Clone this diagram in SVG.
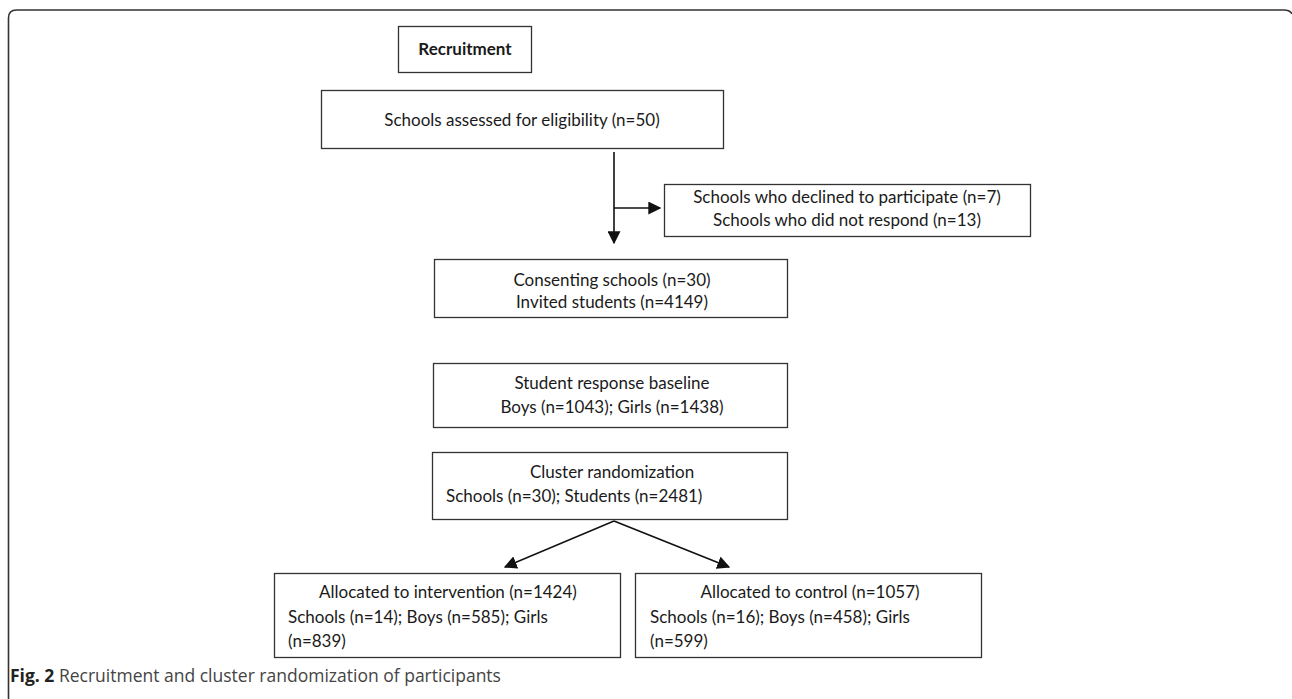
<svg xmlns="http://www.w3.org/2000/svg" width="1292" height="699" viewBox="0 0 1292 699">
<style>
.box{fill:#fff;stroke:#333;stroke-width:1.3}
.t{font-family:Lato,"Open Sans",sans-serif;font-size:17px;fill:#1a1a1a}
.c{text-anchor:middle}
.ln{stroke:#111;stroke-width:1.6;fill:none}
.cap{font-family:"Open Sans","Noto Sans",sans-serif;font-size:17.5px;fill:#444}
</style>
<defs>
<marker id="ah2" viewBox="0 0 10 10" refX="9" refY="5" markerWidth="13" markerHeight="13" markerUnits="userSpaceOnUse" orient="auto">
<path d="M0,0 L10,5 L0,10 z" fill="#111"/>
</marker>
</defs>
<rect width="1292" height="699" fill="#fff"/>
<path d="M8.5,699 L8.5,18 Q8.5,10 16.5,10 L1284,10 Q1290,10 1292,14" fill="none" stroke="#333" stroke-width="1.6"/>
<g id="recruitment"><rect class="box" x="398.5" y="26.5" width="133" height="46"/><text class="t c" x="465" y="55" font-weight="bold" font-size="15px">Recruitment</text></g>
<g id="assessed"><rect class="box" x="321.5" y="90.5" width="402" height="58"/><text class="t c" x="522" y="126">Schools assessed for eligibility (n=50)</text></g>
<g id="excluded"><rect class="box" x="664.5" y="184.5" width="366" height="52"/><text class="t c" x="847" y="203">Schools who declined to participate (n=7)</text><text class="t c" x="847" y="226">Schools who did not respond (n=13)</text></g>
<g id="consenting"><rect class="box" x="434.5" y="259.5" width="353" height="58"/><text class="t c" x="612" y="286">Consenting schools (n=30)</text><text class="t c" x="612" y="308">Invited students (n=4149)</text></g>
<g id="baseline"><rect class="box" x="433.5" y="363.5" width="354" height="64"/><text class="t c" x="612" y="389">Student response baseline</text><text class="t c" x="612" y="413">Boys (n=1043); Girls (n=1438)</text></g>
<g id="randomization"><rect class="box" x="432.5" y="452.5" width="355" height="67"/><text class="t c" x="612" y="478">Cluster randomization</text><text class="t" x="446" y="502">Schools (n=30); Students (n=2481)</text></g>
<g id="intervention"><rect class="box" x="274.5" y="573.5" width="346" height="84"/><text class="t c" x="448" y="598">Allocated to intervention (n=1424)</text><text class="t" x="288" y="623">Schools (n=14); Boys (n=585); Girls</text><text class="t" x="288" y="647">(n=839)</text></g>
<g id="control"><rect class="box" x="635.5" y="573.5" width="346" height="84"/><text class="t c" x="810" y="598">Allocated to control (n=1057)</text><text class="t" x="650" y="623">Schools (n=16); Boys (n=458); Girls</text><text class="t" x="650" y="647">(n=599)</text></g>
<g id="connectors">
<line class="ln" x1="614" y1="152" x2="614" y2="243" marker-end="url(#ah2)"/>
<line class="ln" x1="614" y1="208" x2="660" y2="208" marker-end="url(#ah2)"/>
<line class="ln" x1="614" y1="521" x2="505" y2="567" marker-end="url(#ah2)"/>
<line class="ln" x1="614" y1="521" x2="729" y2="567" marker-end="url(#ah2)"/>
</g>
<text class="cap" x="10" y="682"><tspan font-weight="bold" fill="#222">Fig. 2</tspan> Recruitment and cluster randomization of participants</text>
</svg>
